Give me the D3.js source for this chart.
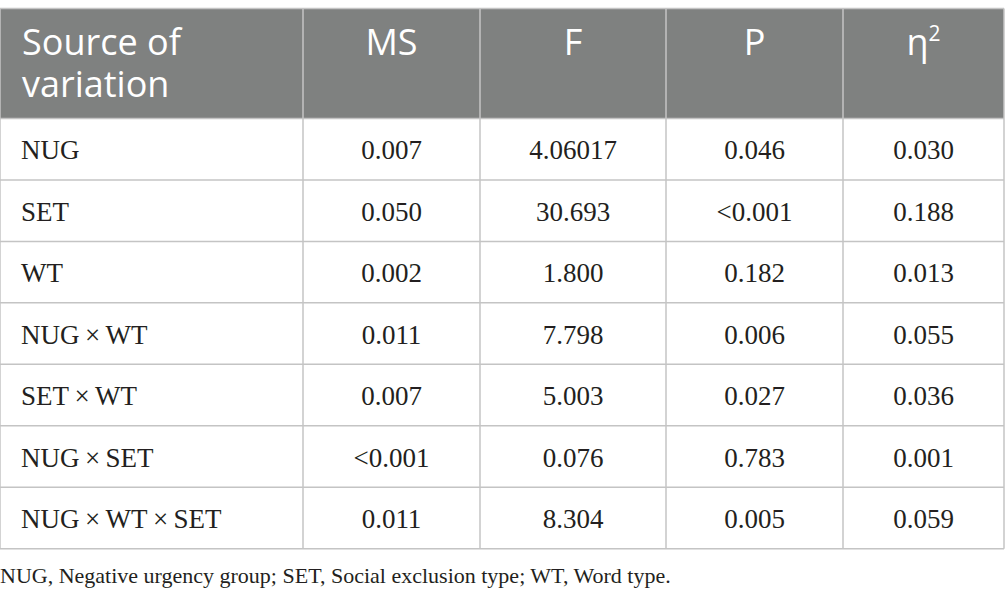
<!DOCTYPE html>
<html>
<head>
<meta charset="utf-8">
<script src="https://cdn.jsdelivr.net/npm/d3@7"></script>
<style>
  body { margin: 0; background: #fff; }
</style>
</head>
<body>
<div id="tbl"></div>
<script>
// table data
var headers = [['Source of', 'variation'], ['MS'], ['F'], ['P'], ['η2']]
var sources = ['NUG', 'SET', 'WT', 'NUG\u2009×\u2009WT', 'SET\u2009×\u2009WT', 'NUG\u2009×\u2009SET', 'NUG\u2009×\u2009WT\u2009×\u2009SET']
var ms = ['0.007', '0.050', '0.002', '0.011', '0.007', '<0.001', '0.011']
var fval = ['4.06017', '30.693', '1.800', '7.798', '5.003', '0.076', '8.304']
var pval = ['0.046', '<0.001', '0.182', '0.006', '0.027', '0.783', '0.005']
var eta = ['0.030', '0.188', '0.013', '0.055', '0.036', '0.001', '0.059']
var note = 'NUG, Negative urgency group; SET, Social exclusion type; WT, Word type.'

var svg = d3.select('#tbl').append('svg')
  .attr('width', 1005)
  .attr('height', 605)

var colEdges = [0, 303, 480, 666, 843, 1004]
var tableTop = 8.5
var headH = 110
var bodyTop = tableTop + headH
var tableBottom = 548.7
var gray = '#c4c4c4'

var yrow = d3.scaleBand().domain(d3.range(sources.length)).range([bodyTop, tableBottom])

// header background
svg.append('rect')
  .attr('x', 0).attr('y', tableTop)
  .attr('width', 1004).attr('height', headH)
  .attr('fill', '#7f8180')

var columns = [sources, ms, fval, pval, eta]

// header text
headers.forEach(function(h, c){
  var left = c == 0
  var t = svg.append('text')
    .attr('x', left ? 22 : (colEdges[c] + colEdges[c+1]) / 2)
    .attr('y', 55)
    .attr('text-anchor', left ? 'start' : 'middle')
    .attr('fill', '#fff')
    .style('font-family', '"Open Sans", sans-serif')
    .style('font-size', '36px')
  if (h[0] == 'η2') {
    t.text('η')
    t.append('tspan').attr('dy', -14).style('font-size', '21px').text('2')
  } else {
    h.forEach(function(line, i){
      t.append('tspan').attr('x', t.attr('x')).attr('dy', i == 0 ? 0 : 42).text(line)
    })
  }
})

// body cells
columns.forEach(function(col, c){
  svg.selectAll('.c' + c).data(col).enter()
    .append('text')
    .attr('class', 'c' + c)
    .attr('x', c == 0 ? 21 : (colEdges[c] + colEdges[c+1]) / 2)
    .attr('y', function(d, i){ return yrow(i) + yrow.bandwidth() / 2 + 10 })
    .attr('text-anchor', c == 0 ? 'start' : 'middle')
    .attr('fill', '#231f20')
    .style('font-family', '"Liberation Serif", serif')
    .style('font-size', '27px')
    .text(function(d){ return d })
})

// grid lines
svg.append('line').attr('x1', 0).attr('x2', 1004).attr('y1', tableTop).attr('y2', tableTop)
  .attr('stroke', gray).attr('stroke-width', 1.5)
svg.selectAll('.hl').data(d3.range(sources.length + 1)).enter()
  .append('line')
  .attr('class', 'hl')
  .attr('x1', 0).attr('x2', 1004)
  .attr('y1', function(d){ return d == sources.length ? tableBottom : yrow(d) })
  .attr('y2', function(d){ return d == sources.length ? tableBottom : yrow(d) })
  .attr('stroke', gray).attr('stroke-width', 1.5)
svg.selectAll('.vl').data(colEdges).enter()
  .append('line')
  .attr('class', 'vl')
  .attr('x1', function(d){ return d }).attr('x2', function(d){ return d })
  .attr('y1', tableTop).attr('y2', tableBottom)
  .attr('stroke', gray).attr('stroke-width', 1.5)

svg.append('text')
  .attr('x', 0).attr('y', 583)
  .attr('fill', '#231f20')
  .style('font-family', '"Liberation Serif", serif')
  .style('font-size', '22px')
  .text(note)
</script>
</body>
</html>
